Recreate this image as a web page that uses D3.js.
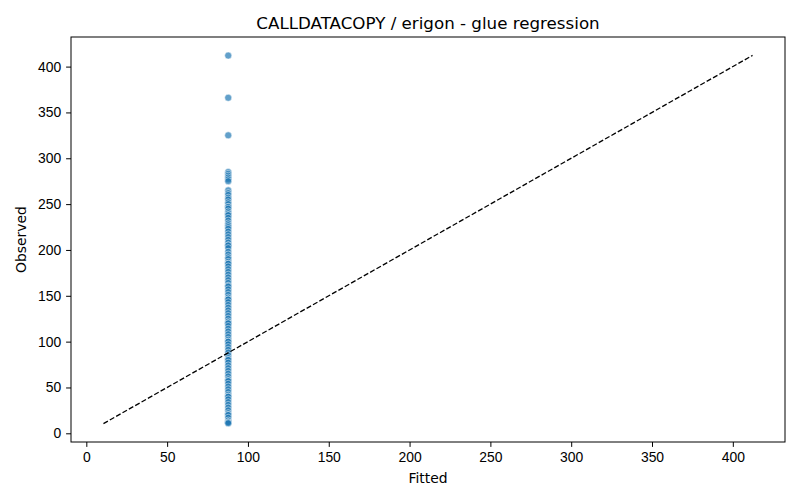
<!DOCTYPE html>
<html>
<head>
<meta charset="utf-8">
<script src="https://cdn.jsdelivr.net/npm/d3@7"></script>
<style>
  body { margin: 0; background: #fff; }
  svg { font-family: "DejaVu Sans", sans-serif; }
  .tick text { font-size: 13.9px; fill: #000; }
  .tick line, .domain { stroke: #000; }
</style>
</head>
<body>
<div id="chart"></div>
<script>
// fitted value is the same for every row (glue regression collapses)
const fittedValue = 87.8;

const observed = [
  412, 366, 325,
  285, 283, 281, 279, 277, 275,
  265, 262, 260, 257, 255, 252, 250, 247, 247, 245, 242, 240, 238, 238, 235,
  232, 229, 227, 225, 223, 220, 217, 214, 211, 208, 205, 205, 202,
  198, 195, 192, 190, 187, 185, 185, 182, 179, 176, 173, 170, 167, 164, 161, 160,
  157, 154, 151, 148, 146, 146, 143, 140, 137, 134, 131, 128, 125, 122, 120, 120,
  117, 114, 111, 108, 105, 102, 100, 100, 97, 94, 91, 88, 85, 82, 80, 80,
  77, 74, 71, 68, 65, 62, 59, 57, 57, 54, 51, 48, 45, 42, 40, 40,
  37, 34, 31, 28, 25, 22, 20, 20, 17, 14, 12, 12, 11
];

const xTicks = [0, 50, 100, 150, 200, 250, 300, 350, 400];
const yTicks = [0, 50, 100, 150, 200, 250, 300, 350, 400];

const titleText = "CALLDATACOPY / erigon - glue regression";
const xLabel = "Fitted";
const yLabel = "Observed";

const points = observed.map(v => ({fitted: fittedValue, observed: v}));

const W = 800, H = 500;
const margin = {top: 37, right: 15, bottom: 58, left: 71};
const width = W - margin.left - margin.right;
const height = H - margin.top - margin.bottom;

const lo = d3.min([d3.min(observed), fittedValue]) - 0.4;
const hi = d3.max([d3.max(observed), fittedValue]) + 0.2;
const pad = (hi - lo) * 0.05;

const x = d3.scaleLinear().domain([lo - pad, hi + pad]).range([0, width]);
const y = d3.scaleLinear().domain([lo - pad, hi + pad]).range([height, 0]);

const svg = d3.select("#chart").append("svg")
    .attr("width", W)
    .attr("height", H);

const g = svg.append("g")
    .attr("transform", `translate(${margin.left},${margin.top})`);

// axes
g.append("g")
    .attr("transform", `translate(0,${height})`)
    .call(d3.axisBottom(x).tickValues(xTicks).tickSize(4.9).tickPadding(4.9).tickSizeOuter(0))
    .call(a => a.select(".domain").remove());

g.append("g")
    .call(d3.axisLeft(y).tickValues(yTicks).tickSize(4.9).tickPadding(4.9).tickSizeOuter(0))
    .call(a => a.select(".domain").remove());

// points
g.append("g")
  .selectAll("circle")
  .data(points)
  .enter()
  .append("circle")
    .attr("cx", d => x(d.fitted))
    .attr("cy", d => y(d.observed))
    .attr("r", 3.5)
    .attr("fill", "#1f77b4")
    .attr("fill-opacity", 0.7)
    .attr("stroke", "#fff")
    .attr("stroke-opacity", 0.7)
    .attr("stroke-width", 0.7);

// identity line
g.append("line")
    .attr("x1", x(lo)).attr("y1", y(lo))
    .attr("x2", x(hi)).attr("y2", y(hi))
    .attr("stroke", "#000")
    .attr("stroke-width", 1.3)
    .attr("stroke-dasharray", "5.1,2.2");

// frame
g.append("rect")
    .attr("width", width)
    .attr("height", height)
    .attr("fill", "none")
    .attr("stroke", "#000")
    .attr("stroke-width", 1);

// title and labels
svg.append("text")
    .attr("x", margin.left + width / 2)
    .attr("y", 29)
    .attr("text-anchor", "middle")
    .style("font-size", "16.7px")
    .text(titleText);

svg.append("text")
    .attr("x", margin.left + width / 2)
    .attr("y", margin.top + height + 41)
    .attr("text-anchor", "middle")
    .style("font-size", "13.9px")
    .text(xLabel);

svg.append("text")
    .attr("transform", `translate(26,${margin.top + height / 2}) rotate(-90)`)
    .attr("text-anchor", "middle")
    .style("font-size", "13.9px")
    .text(yLabel);
</script>
</body>
</html>
